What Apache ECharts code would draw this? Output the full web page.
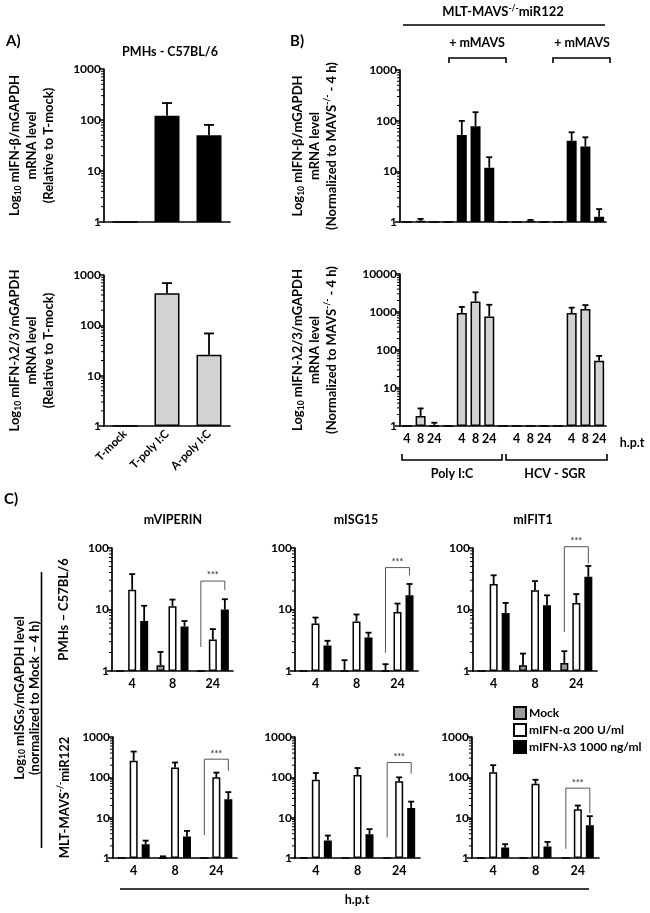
<!DOCTYPE html>
<html><head><meta charset="utf-8">
<script src="https://cdn.jsdelivr.net/npm/echarts@6/dist/echarts.min.js"></script>
<style>html,body{margin:0;padding:0;background:#fff}#c{width:650px;height:913px}</style>
</head><body><div id="c"></div>
<script>
const FONT = 'Lato';

// ---------- Panel A (PMHs - C57BL/6) ----------
const aCategories = ['T-mock', 'T-poly I:C', 'A-poly I:C'];
const aBetaMean   = [1, 121, 50];
const aBetaErr    = [1, 215, 80];
const aLambdaMean = [1, 436, 26];
const aLambdaErr  = [1, 690, 69];

// ---------- Panel B (MLT-MAVS-/-miR122) ----------
const bHours = ['4', '8', '24'];
const bGroups = ['Poly I:C', 'Poly I:C + mMAVS', 'HCV - SGR', 'HCV - SGR + mMAVS'];
const bBetaMean   = [1, 1.05, 1,   52, 78, 11.8,   1, 1.05, 1,   40, 31, 1.27];
const bBetaErr    = [1, 1.15, 1,   99, 147, 19,    1, 1.1, 1,    59, 47, 1.8];
const bLambdaMean = [1, 1.84, 1,   940, 1900, 760,  1, 1, 1,   940, 1200, 52];
const bLambdaErr  = [1, 2.9, 1.22, 1360, 3300, 1550, 1, 1, 1,  1300, 1520, 70];

// ---------- Panel C ----------
const cHours = ['4', '8', '24'];
const cGenes = ['mVIPERIN', 'mISG15', 'mIFIT1'];
const cSeriesNames = ['Mock', 'mIFN-α 200 U/ml', 'mIFN-λ3 1000 ng/ml'];
// PMHs row
const vipPmhMock = [1, 1.24, 1],     vipPmhMockErr = [1, 2.04, 1];
const vipPmhAlpha = [21, 11.3, 3.25], vipPmhAlphaErr = [37.6, 14.5, 4.8];
const vipPmhLambda = [6.5, 5.3, 10],  vipPmhLambdaErr = [11.5, 6.5, 14.7];
const isgPmhMock = [1, 1, 1],         isgPmhMockErr = [1, 1.5, 1.29];
const isgPmhAlpha = [5.9, 6.4, 9.1],  isgPmhAlphaErr = [7.4, 8.3, 12.5];
const isgPmhLambda = [2.6, 3.5, 17],  isgPmhLambdaErr = [3.1, 4.2, 26];
const ifitPmhMock = [1, 1.24, 1.35],  ifitPmhMockErr = [1, 1.92, 2.1];
const ifitPmhAlpha = [26, 20.6, 12.8], ifitPmhAlphaErr = [36, 29, 17.8];
const ifitPmhLambda = [8.8, 11.7, 34], ifitPmhLambdaErr = [12.8, 17, 51];
// MLT-MAVS-/-miR122 row
const vipMltMock = [1, 1, 1],          vipMltMockErr = [1, 1.1, 1];
const vipMltAlpha = [257, 176, 100],   vipMltAlphaErr = [435, 233, 131];
const vipMltLambda = [2.2, 3.4, 28.5], vipMltLambdaErr = [2.7, 4.7, 43];
const isgMltMock = [1, 1, 1],          isgMltMockErr = [1, 1, 1];
const isgMltAlpha = [87, 114, 80],     isgMltAlphaErr = [128, 170, 100];
const isgMltLambda = [2.7, 3.9, 17.4], isgMltLambdaErr = [3.6, 5.2, 25];
const ifitMltMock = [1, 1, 1],         ifitMltMockErr = [1, 1, 1];
const ifitMltAlpha = [133, 69, 16.1],  ifitMltAlphaErr = [200, 87, 20];
const ifitMltLambda = [1.82, 1.93, 6.5], ifitMltLambdaErr = [2.2, 2.5, 10.9];
// significance brackets (24 h): [left leg bottom, bracket top, right leg bottom]
const sigVipPmh = [2.46, 29, 20.6];
const sigIsgPmh = [1.97, 48, 36];
const sigIfitPmh = [4.3, 105, 56];
const sigVipMlt = [3.7, 282, 146];
const sigIsgMlt = [3.2, 233, 123];
const sigIfitMlt = [1.69, 54, 12.9];

// ---------- styling helpers ----------
const C_GREY_LIGHT = '#d2d2d2', C_GREY = '#9b9b9b', C_WHITE = '#ffffff', C_BLACK = '#000000';
const richName = {
  n: {fontFamily: FONT, fontWeight: 'bold', fontSize: 13, lineHeight: 17, color: '#000'},
  sub: {fontFamily: FONT, fontWeight: 'bold', fontSize: 8.5, lineHeight: 17, color: '#000', verticalAlign: 'bottom'},
  sup: {fontFamily: FONT, fontWeight: 'bold', fontSize: 8.5, lineHeight: 17, color: '#000', verticalAlign: 'top'}
};

const grids = [], xAxes = [], yAxes = [], series = [];

function logMinorValues(maxExp) {
  const v = [];
  for (let d = 0; d < maxExp; d++) for (let m = 2; m <= 9; m++) v.push(m * Math.pow(10, d));
  return v;
}
function minorTickRender(params, api) {
  const p = api.coord([0, api.value(1)]);
  const band = api.size([1, 0])[0];
  const x0 = p[0] - band / 2;
  return {type: 'line', shape: {x1: x0 - 3, y1: p[1], x2: x0, y2: p[1]}, style: {stroke: '#000', lineWidth: 1}};
}
function errRender(offset, cap) {
  return function (params, api) {
    const i = api.value(0), m = api.value(1), e = api.value(2);
    if (!(e > m)) return {type: 'group', children: []};
    const p0 = api.coord([i, m]), p1 = api.coord([i, e]);
    const x = p0[0] + offset;
    return {type: 'group', children: [
      {type: 'line', shape: {x1: x, y1: p0[1], x2: x, y2: p1[1]}, style: {stroke: '#000', lineWidth: 1.8}},
      {type: 'line', shape: {x1: x - cap, y1: p1[1], x2: x + cap, y2: p1[1]}, style: {stroke: '#000', lineWidth: 1.8}}
    ]};
  };
}
function sigRender(offL, offR) {
  return function (params, api) {
    const i = api.value(0);
    const pl = api.coord([i, api.value(1)]), pt = api.coord([i, api.value(2)]), pr = api.coord([i, api.value(3)]);
    const xl = pl[0] + offL, xr = pl[0] + offR;
    return {type: 'group', children: [
      {type: 'polyline', shape: {points: [[xl, pl[1]], [xl, pt[1]], [xr, pt[1]], [xr, pr[1]]]},
       style: {stroke: '#555', lineWidth: 1, fill: null}},
      {type: 'text', style: {text: '***', x: (xl + xr) / 2, y: pt[1] - 1, align: 'center', verticalAlign: 'bottom',
        fill: '#444', font: 'bold 9px ' + FONT}}
    ]};
  };
}

function addPanel(p) {
  const gi = grids.length;
  grids.push(Object.assign({containLabel: false}, p.grid));
  xAxes.push({
    type: 'category', gridIndex: gi, data: p.cats,
    axisLine: {lineStyle: {color: '#000', width: 1.7}},
    axisTick: {alignWithLabel: true, length: 4, lineStyle: {color: '#000', width: 1.6}, interval: p.tickInterval || 0},
    axisLabel: {show: !!p.showLabels, interval: 0, rotate: p.rotate || 0, color: '#000', fontFamily: FONT,
      fontWeight: 'bold', fontSize: p.xFont || 12.5, margin: p.xMargin || 6},
    splitLine: {show: false}
  });
  const yi = yAxes.length;
  yAxes.push({
    type: 'log', logBase: 10, gridIndex: gi, min: 1, max: p.yMax,
    name: p.yName || '', nameLocation: 'middle', nameRotate: 90, nameGap: p.nameGap || 40,
    nameTextStyle: {rich: richName, align: 'center', fontFamily: FONT, fontWeight: 'bold', fontSize: 13, lineHeight: 17},
    axisLine: {show: true, lineStyle: {color: '#000', width: 1.7}},
    axisTick: {show: true, length: 5, lineStyle: {color: '#000', width: 1.5}},
    axisLabel: {color: '#000', fontFamily: FONT, fontWeight: 'bold', fontSize: 12, margin: 3, formatter: v => String(v)},
    splitLine: {show: false}
  });
  const maxExp = Math.round(Math.log10(p.yMax));
  series.push({type: 'custom', xAxisIndex: gi, yAxisIndex: yi, clip: false, z: 6, silent: true,
    data: logMinorValues(maxExp).map(v => [0, v]), renderItem: minorTickRender});
  p.series.forEach(s => {
    series.push({type: 'bar', name: s.name, xAxisIndex: gi, yAxisIndex: yi, data: s.mean,
      barWidth: p.barWidth, barGap: p.barGap || '30%',
      itemStyle: {color: s.color, borderColor: '#000', borderWidth: 1.5}, silent: true});
  });
  p.series.forEach(s => {
    series.push({type: 'custom', xAxisIndex: gi, yAxisIndex: yi, clip: false, z: 4, silent: true,
      data: s.mean.map((m, i) => [i, m, s.err[i]]), renderItem: errRender(s.offset || 0, p.cap)});
  });
  if (p.sig) {
    series.push({type: 'custom', xAxisIndex: gi, yAxisIndex: yi, clip: false, z: 5, silent: true,
      data: [[2, p.sig[0], p.sig[1], p.sig[2]]], renderItem: sigRender(-12, 12)});
  }
}

// B categories with spacer between groups
const bCats = [];
bGroups.forEach((g, gi) => { bHours.forEach(h => bCats.push(h)); if (gi < bGroups.length - 1) bCats.push(''); });
function bSpread(arr) {
  const out = [];
  for (let g = 0; g < 4; g++) { for (let k = 0; k < 3; k++) out.push(arr[g * 3 + k]); if (g < 3) out.push(1); }
  return out;
}
const bTickInterval = (idx, val) => val !== '';

// Panel A
addPanel({grid: {left: 104, top: 69, width: 126, height: 153}, cats: aCategories, showLabels: false, yMax: 1000,
  yName: '{n|Log}{sub|10}{n| mIFN-β/mGAPDH}\n{n|mRNA level}\n{n|(Relative to T-mock)}', nameGap: 47,
  barWidth: 25, cap: 5, series: [{name: 'A-beta', mean: aBetaMean, err: aBetaErr, color: C_BLACK}]});
addPanel({grid: {left: 104, top: 275, width: 126, height: 151}, cats: aCategories, showLabels: true, rotate: 45, xFont: 11.5, yMax: 1000,
  yName: '{n|Log}{sub|10}{n| mIFN-λ2/3/mGAPDH}\n{n|mRNA level}\n{n|(Relative to T-mock)}', nameGap: 47,
  barWidth: 25, cap: 5, series: [{name: 'A-lambda', mean: aLambdaMean, err: aLambdaErr, color: C_GREY_LIGHT}]});
// Panel B
addPanel({grid: {left: 400, top: 70, width: 206, height: 152}, cats: bCats, showLabels: false, tickInterval: bTickInterval, yMax: 1000,
  yName: '{n|Log}{sub|10}{n| mIFN-β/mGAPDH}\n{n|mRNA level}\n{n|(Normalized to MAVS}{sup|-/-}{n| - 4 h)}', nameGap: 60,
  barWidth: 10, cap: 3, series: [{name: 'B-beta', mean: bSpread(bBetaMean), err: bSpread(bBetaErr), color: C_BLACK}]});
addPanel({grid: {left: 400, top: 274, width: 206, height: 152}, cats: bCats, showLabels: true, tickInterval: bTickInterval, yMax: 10000,
  yName: '{n|Log}{sub|10}{n| mIFN-λ2/3/mGAPDH}\n{n|mRNA level}\n{n|(Normalized to MAVS}{sup|-/-}{n| - 4 h)}', nameGap: 60,
  barWidth: 10, cap: 3, series: [{name: 'B-lambda', mean: bSpread(bLambdaMean), err: bSpread(bLambdaErr), color: C_GREY_LIGHT}]});

// Panel C
function cSeries(mock, mockErr, alpha, alphaErr, lambda, lambdaErr) {
  return [
    {name: cSeriesNames[0], mean: mock, err: mockErr, color: C_GREY, offset: -12},
    {name: cSeriesNames[1], mean: alpha, err: alphaErr, color: C_WHITE, offset: 0},
    {name: cSeriesNames[2], mean: lambda, err: lambdaErr, color: C_BLACK, offset: 12}
  ];
}
const cTop = 548, cH1 = 123, cTop2 = 737, cH2 = 121;
addPanel({grid: {left: 112, top: cTop, width: 121, height: cH1}, cats: cHours, showLabels: true, yMax: 100,
  yName: '{n|PMHs – C57BL/6}', nameGap: 40, barWidth: 8, barGap: '50%', cap: 3, sig: sigVipPmh,
  series: cSeries(vipPmhMock, vipPmhMockErr, vipPmhAlpha, vipPmhAlphaErr, vipPmhLambda, vipPmhLambdaErr)});
addPanel({grid: {left: 295, top: cTop, width: 123, height: cH1}, cats: cHours, showLabels: true, yMax: 100,
  barWidth: 8, barGap: '50%', cap: 3, sig: sigIsgPmh,
  series: cSeries(isgPmhMock, isgPmhMockErr, isgPmhAlpha, isgPmhAlphaErr, isgPmhLambda, isgPmhLambdaErr)});
addPanel({grid: {left: 473, top: cTop, width: 124, height: cH1}, cats: cHours, showLabels: true, yMax: 100,
  barWidth: 8, barGap: '50%', cap: 3, sig: sigIfitPmh,
  series: cSeries(ifitPmhMock, ifitPmhMockErr, ifitPmhAlpha, ifitPmhAlphaErr, ifitPmhLambda, ifitPmhLambdaErr)});
addPanel({grid: {left: 113, top: cTop2, width: 124, height: cH2}, cats: cHours, showLabels: true, yMax: 1000,
  yName: '{n|MLT-MAVS}{sup|-/-}{n|miR122}', nameGap: 40, barWidth: 8, barGap: '50%', cap: 3, sig: sigVipMlt,
  series: cSeries(vipMltMock, vipMltMockErr, vipMltAlpha, vipMltAlphaErr, vipMltLambda, vipMltLambdaErr)});
addPanel({grid: {left: 295, top: cTop2, width: 125, height: cH2}, cats: cHours, showLabels: true, yMax: 1000,
  barWidth: 8, barGap: '50%', cap: 3, sig: sigIsgMlt,
  series: cSeries(isgMltMock, isgMltMockErr, isgMltAlpha, isgMltAlphaErr, isgMltLambda, isgMltLambdaErr)});
addPanel({grid: {left: 472, top: cTop2, width: 127, height: cH2}, cats: cHours, showLabels: true, yMax: 1000,
  barWidth: 8, barGap: '50%', cap: 3, sig: sigIfitMlt,
  series: cSeries(ifitMltMock, ifitMltMockErr, ifitMltAlpha, ifitMltAlphaErr, ifitMltLambda, ifitMltLambdaErr)});

// ---------- annotations ----------
const tBold = (s, extra) => Object.assign({fontFamily: FONT, fontWeight: 'bold', fill: '#000', fontSize: 12.5, align: 'center', verticalAlign: 'middle'}, extra || {}, {text: s});
const line = pts => ({type: 'polyline', shape: {points: pts}, style: {stroke: '#000', lineWidth: 1.6, fill: null}});
const graphic = [
  {type: 'text', x: 6, y: 41, style: tBold('A)', {fontSize: 15, align: 'left'})},
  {type: 'text', x: 290, y: 41, style: tBold('B)', {fontSize: 15, align: 'left'})},
  {type: 'text', x: 4, y: 499, style: tBold('C)', {fontSize: 15, align: 'left'})},
  {type: 'text', x: 170, y: 52, style: tBold('PMHs - C57BL/6')},
  {type: 'text', x: 503, y: 12, style: {text: '{n|MLT-MAVS}{sup|-/-}{n|miR122}', align: 'center', verticalAlign: 'middle', rich: richName}},
  line([[403, 25], [605, 25]]),
  {type: 'text', x: 477, y: 43, style: tBold('+ mMAVS')},
  {type: 'text', x: 582, y: 43, style: tBold('+ mMAVS')},
  line([[449, 63], [449, 58], [506, 58], [506, 63]]),
  line([[553, 63], [553, 58], [610, 58], [610, 63]]),
  {type: 'text', x: 632, y: 443, style: tBold('h.p.t')},
  line([[402, 454], [402, 460], [502, 460], [502, 454]]),
  line([[506, 454], [506, 460], [607, 460], [607, 454]]),
  {type: 'text', x: 452, y: 474, style: tBold(bGroups[0])},
  {type: 'text', x: 555, y: 474, style: tBold(bGroups[2])},
  {type: 'text', x: 173, y: 520, style: tBold(cGenes[0])},
  {type: 'text', x: 356, y: 520, style: tBold(cGenes[1])},
  {type: 'text', x: 533, y: 520, style: tBold(cGenes[2])},
  {type: 'text', x: 27, y: 698, rotation: Math.PI / 2,
    style: {text: '{n|Log}{sub|10}{n| mISGs/mGAPDH level}\n{n|(normalized to Mock – 4 h)}', align: 'center', verticalAlign: 'middle',
      rich: {n: Object.assign({}, richName.n, {lineHeight: 15}), sub: Object.assign({}, richName.sub, {lineHeight: 15})}}},
  line([[41.5, 572], [41.5, 848]]),
  line([[120, 889], [589, 889]]),
  {type: 'text', x: 357, y: 900, style: tBold('h.p.t')}
];

const chart = echarts.init(document.getElementById('c'), null, {renderer: 'canvas'});
chart.setOption({
  animation: false,
  backgroundColor: '#fff',
  textStyle: {fontFamily: FONT},
  grid: grids, xAxis: xAxes, yAxis: yAxes, series: series,
  legend: {data: cSeriesNames, orient: 'vertical', left: 513, top: 706, itemWidth: 12, itemHeight: 12, itemGap: 3,
    icon: 'rect', selectedMode: false, padding: 0,
    textStyle: {fontFamily: FONT, fontWeight: 'bold', fontSize: 12, color: '#000', padding: [0, 0, 0, -2]}},
  graphic: graphic
});
</script></body></html>
